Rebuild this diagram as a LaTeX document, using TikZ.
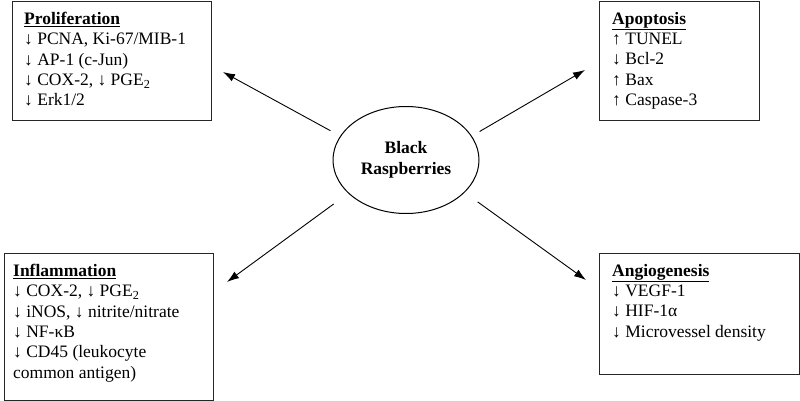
\documentclass[tikz,border=0pt]{standalone}
\usepackage{fontspec}
\setmainfont{Liberation Serif}
\usepackage{tikz}
\usetikzlibrary{shapes,arrows.meta,positioning}

\begin{document}
\begin{tikzpicture}[
        x=1pt, y=-1pt,
        panel/.style={rectangle, draw=black!85, line width=1pt, inner sep=0pt, anchor=north west},
        itemlist/.style={align=left, inner sep=0pt, anchor=north west, font=\fontsize{17.5}{20.3}\selectfont},
        berry/.style={ellipse, draw=black, line width=1pt, minimum width=146pt, minimum height=107pt, align=center, font=\fontsize{17.5}{21}\selectfont\bfseries},
        arr/.style={-{Latex[length=12pt,width=8pt]}, line width=0.9pt}
    ]
        \useasboundingbox (0,0) rectangle (800,401);

        % Centre
        \node[berry] (BR) at (406,160) {Black\\Raspberries};

        % Boxes
        \node[panel, minimum width=199pt, minimum height=119pt] (PRO) at (12,1) {};
        \node[panel, minimum width=160pt, minimum height=119pt] (APO) at (599,1) {};
        \node[panel, minimum width=209pt, minimum height=147pt] (INF) at (4,253) {};
        \node[panel, minimum width=200pt, minimum height=121pt] (ANG) at (599,253) {};

        % Box texts
        \node[itemlist] (PROtxt) at ([shift={(12,11)}]PRO.north west) {\underline{\textbf{Proliferation}}\\
            ↓ PCNA, Ki-67/MIB-1\\ ↓ AP-1 (c-Jun)\\ ↓ COX-2, ↓ PGE\textsubscript{2}\\ ↓ Erk1/2};
        \node[itemlist] (APOtxt) at ([shift={(13,11)}]APO.north west) {\underline{\textbf{Apoptosis}}\\
            ↑ TUNEL\\ ↓ Bcl-2\\ ↑ Bax\\ ↑ Caspase-3};
        \node[itemlist] (INFtxt) at ([shift={(9,11)}]INF.north west) {\underline{\textbf{Inflammation}}\\
            ↓ COX-2, ↓ PGE\textsubscript{2}\\ ↓ iNOS, ↓ nitrite/nitrate\\ ↓ NF-κB\\ ↓ CD45 (leukocyte\\ common antigen)};
        \node[itemlist] (ANGtxt) at ([shift={(13,11)}]ANG.north west) {\underline{\textbf{Angiogenesis}}\\
            ↓ VEGF-1\\ ↓ HIF-1α\\ ↓ Microvessel density};

        % Arrow tips
        \coordinate (tipPRO) at (223,72);
        \coordinate (tipAPO) at (585,70);
        \coordinate (tipINF) at (227,282);
        \coordinate (tipANG) at (586,280);

        % Arrows
        \draw[arr, shorten <=11pt] (BR.160) -- (tipPRO);
        \draw[arr, shorten <=9pt] (BR.20) -- (tipAPO);
        \draw[arr, shorten <=18pt] (BR.210) -- (tipINF);
        \draw[arr, shorten <=16pt] (BR.331) -- (tipANG);

    \end{tikzpicture}
\end{document}
